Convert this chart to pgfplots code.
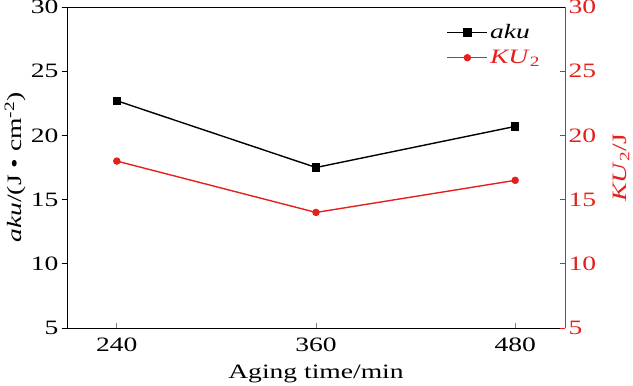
\documentclass[border=0pt]{standalone}
\usepackage{pgfplots}
\pgfplotsset{compat=1.18}
\usepackage{fontspec}
\setmainfont{Liberation Serif}[FakeStretch=1.35]
\definecolor{myred}{RGB}{228,32,28}
\begin{document}
\begin{tikzpicture}
\pgfplotsset{every axis/.style={
  width=498bp, height=321bp, scale only axis,
  xmin=210, xmax=510, ymin=5, ymax=30,
  /pgf/number format/assume math mode=true,
  tick label style={font=\fontsize{20.5}{20.5}\selectfont},
  label style={font=\fontsize{20.5}{20.5}\selectfont},
  major tick length=5bp,
}}
\begin{axis}[
  axis y line*=left, axis x line*=bottom,
  xtick={240,360,480}, ytick={5,10,...,30},
  ytick style={black, line width=0.9pt}, yticklabel style={black},
  xtick style={line width=0.9pt},
  xlabel={Aging time/min},
  ylabel={\textit{aku}/(J\,\,\textbullet\,\,cm\textsuperscript{-2})},
  xlabel style={yshift=-7bp},
  ylabel style={yshift=-2bp},
  xticklabel style={yshift=-6bp},
  x axis line style={-, line width=1pt},
  y axis line style={-, line width=1pt},
  xtick align=inside, ytick align=outside,
]
\addplot[black, line width=1.4pt, mark=square*, mark size=3.5pt] coordinates {(240,22.7) (360,17.5) (480,20.7)};
\coordinate (bl) at (rel axis cs:0,0);
\coordinate (tr) at (rel axis cs:1,1);
\end{axis}
\begin{axis}[
  axis y line*=right, axis x line=none,
  ytick={5,10,...,30},
  y axis line style={myred, -, line width=1pt},
  ytick style={myred, line width=0.9pt}, yticklabel style={myred},
  ylabel={\textcolor{myred}{\textit{KU}\textsubscript{2}/J}},
  ylabel style={myred, yshift=-10bp},
  ytick align=inside,
  legend style={draw=none, fill=none, at={(0.76,0.955)}, anchor=north west,
    font=\fontsize{20.5}{20.5}\selectfont, row sep=6bp, inner sep=1bp},
  legend cell align=left,
  legend image code/.code={\draw[mark repeat=2,mark phase=2] plot coordinates {(0bp,0bp) (20bp,0bp) (40bp,0bp)};},
]
\addlegendimage{black, line width=1.4pt, mark=square*, mark size=3.5pt}
\addlegendentry{\textit{aku}}
\addplot[myred, line width=1.4pt, mark=*, mark size=3pt] coordinates {(240,18.0) (360,14.0) (480,16.5)};
\addlegendentry{\textcolor{myred}{\textit{KU}\textsubscript{2}}}
\draw[black, line width=1pt] (rel axis cs:0,1) -- (rel axis cs:1,1);
\end{axis}
\pgfresetboundingbox
\useasboundingbox ([shift={(-67bp,-58bp)}]bl) rectangle ([shift={(68bp,7bp)}]tr);
\end{tikzpicture}
\end{document}
